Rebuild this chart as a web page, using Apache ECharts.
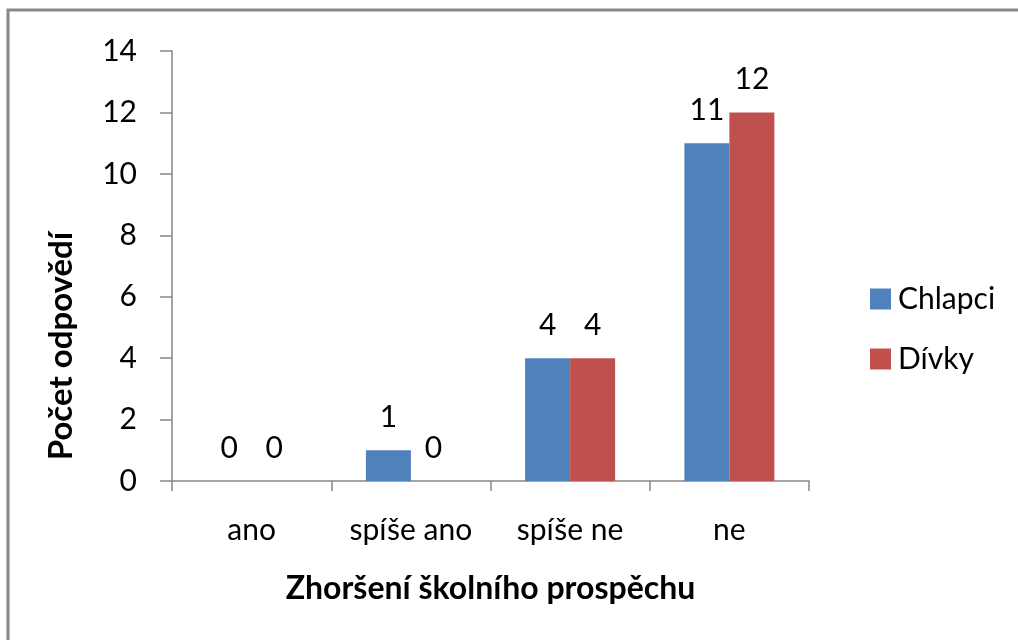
<!DOCTYPE html>
<html>
<head>
<meta charset="utf-8">
<script src="https://cdn.jsdelivr.net/npm/echarts@6/dist/echarts.min.js"></script>
<style>
  html, body { margin: 0; padding: 0; background: #fff; }
  #chart { width: 1018px; height: 640px; }
</style>
</head>
<body>
<div id="chart"></div>
<script>
// data
const categories = ['ano', 'spíše ano', 'spíše ne', 'ne'];
const chlapci = [0, 1, 4, 11];
const divky = [0, 0, 4, 12];
const seriesNames = ['Chlapci', 'Dívky'];

const font = 'Lato';
const grey = '#868686';

const chart = echarts.init(document.getElementById('chart'));

const option = {
    backgroundColor: '#fff',
    animation: false,
    textStyle: { fontFamily: font },
    grid: { left: 172, right: 209, top: 51, bottom: 159 },
    legend: {
        orient: 'vertical',
        left: 865,
        top: 279,
        itemWidth: 21,
        itemHeight: 21,
        itemGap: 30,
        icon: 'rect',
        textStyle: { fontSize: 30, color: '#000', fontFamily: font, padding: [0, 0, 0, 2] },
        data: seriesNames
    },
    graphic: [
        { // ramka kolem grafu
            type: 'rect',
            shape: { x: 8, y: 10, width: 1030, height: 660 },
            style: { fill: 'none', stroke: '#878787', lineWidth: 3 },
            silent: true
        },
        { // popisek osy y
            type: 'text',
            x: 61,
            y: 346,
            rotation: Math.PI / 2,
            style: {
                text: 'Počet odpovědí',
                font: 'bold 33px ' + font,
                fill: '#000',
                align: 'center',
                verticalAlign: 'middle'
            }
        }
    ],
    xAxis: {
        type: 'category',
        data: categories,
        name: 'Zhoršení školního prospěchu',
        nameLocation: 'middle',
        nameGap: 92,
        nameTextStyle: { fontSize: 32, fontWeight: 'bold', color: '#000' },
        axisLine: { lineStyle: { color: grey, width: 1.5 } },
        axisTick: { show: true, length: 10, lineStyle: { color: grey, width: 1.5 } },
        axisLabel: { fontSize: 30, color: '#000', margin: 34, interval: 0 }
    },
    yAxis: {
        type: 'value',
        min: 0,
        max: 14,
        interval: 2,
        axisLine: { show: true, lineStyle: { color: grey, width: 1.5 } },
        axisTick: { show: true, length: 12, lineStyle: { color: grey, width: 1.5 } },
        splitLine: { show: false },
        axisLabel: { fontSize: 30, color: '#000', margin: 35 }
    },
    series: [
        {
            name: seriesNames[0],
            type: 'bar',
            data: chlapci,
            barWidth: 45,
            barGap: '0%',
            itemStyle: { color: '#4F81BD' },
            label: { show: true, position: 'top', distance: 18, fontSize: 30, color: '#000' }
        },
        {
            name: seriesNames[1],
            type: 'bar',
            data: divky,
            barWidth: 45,
            itemStyle: { color: '#C0504D' },
            label: { show: true, position: 'top', distance: 18, fontSize: 30, color: '#000' }
        }
    ]
};

chart.setOption(option);
</script>
</body>
</html>
